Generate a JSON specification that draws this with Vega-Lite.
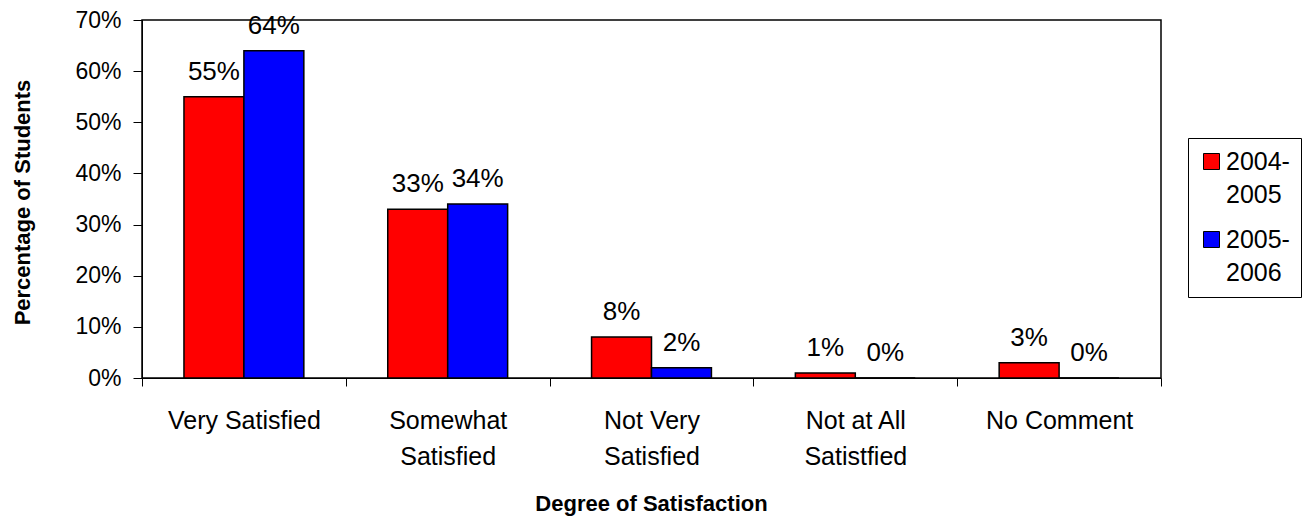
{
  "$schema": "https://vega.github.io/schema/vega-lite/v6.json",
  "width": 1019,
  "height": 358,
  "autosize": {"type": "none"},
  "padding": {"left": 142, "top": 20, "right": 143, "bottom": 138},
  "background": "white",
  "config": {
    "font": "Liberation Sans",
    "view": {"stroke": "black", "strokeWidth": 1.5}
  },
  "data": {
    "values": [
      {"category": "Very Satisfied", "year": "2004-2005", "pct": 0.55},
      {"category": "Very Satisfied", "year": "2005-2006", "pct": 0.64},
      {"category": "Somewhat Satisfied", "year": "2004-2005", "pct": 0.33},
      {"category": "Somewhat Satisfied", "year": "2005-2006", "pct": 0.34},
      {"category": "Not Very Satisfied", "year": "2004-2005", "pct": 0.08},
      {"category": "Not Very Satisfied", "year": "2005-2006", "pct": 0.02},
      {"category": "Not at All Satistfied", "year": "2004-2005", "pct": 0.01},
      {"category": "Not at All Satistfied", "year": "2005-2006", "pct": 0.0},
      {"category": "No Comment", "year": "2004-2005", "pct": 0.03},
      {"category": "No Comment", "year": "2005-2006", "pct": 0.0}
    ]
  },
  "encoding": {
    "x": {
      "field": "category",
      "type": "nominal",
      "sort": null,
      "scale": {"paddingInner": 0, "paddingOuter": 0},
      "axis": {
        "title": "Degree of Satisfaction",
        "titleFontSize": 22,
        "titleFontWeight": "bold",
        "titleColor": "black",
        "titleX": 509,
        "titleY": 132,
        "titleBaseline": "alphabetic",
        "titleAlign": "center",
        "labelAngle": 0,
        "labelFontSize": 25,
        "labelColor": "black",
        "labelBaseline": "top",
        "labelLineHeight": 36,
        "labelPadding": 22,
        "labelLimit": 0,
        "tickBand": "extent",
        "tickSize": 8,
        "tickColor": "black",
        "domainColor": "black",
        "labelExpr": "datum.value == 'Somewhat Satisfied' ? ['Somewhat', 'Satisfied'] : datum.value == 'Not Very Satisfied' ? ['Not Very', 'Satisfied'] : datum.value == 'Not at All Satistfied' ? ['Not at All', 'Satistfied'] : datum.value"
      }
    },
    "xOffset": {
      "field": "year",
      "type": "nominal",
      "scale": {"paddingInner": 0, "paddingOuter": 0.7}
    },
    "y": {
      "field": "pct",
      "type": "quantitative",
      "scale": {"domain": [0, 0.7]},
      "axis": {
        "title": "Percentage of Students",
        "titleFontSize": 22,
        "titleFontWeight": "bold",
        "titleColor": "black",
        "titleAngle": -90,
        "titleX": -113,
        "titleY": 182,
        "titleAlign": "center",
        "titleBaseline": "alphabetic",
        "values": [0, 0.1, 0.2, 0.3, 0.4, 0.5, 0.6, 0.7],
        "format": ".0%",
        "grid": false,
        "labelFontSize": 23,
        "labelColor": "black",
        "labelPadding": 12,
        "tickSize": 9,
        "tickColor": "black",
        "domainColor": "black"
      }
    }
  },
  "layer": [
    {
      "mark": {"type": "bar", "stroke": "black", "strokeWidth": 1.5},
      "encoding": {
        "color": {
          "field": "year",
          "type": "nominal",
          "scale": {"domain": ["2004-2005", "2005-2006"], "range": ["#FF0000", "#0000FF"]},
          "legend": {
            "title": null,
            "orient": "none",
            "legendX": 1046,
            "legendY": 118,
            "strokeColor": "black",
            "fillColor": "white",
            "padding": 11,
            "symbolType": "square",
            "symbolSize": 256,
            "symbolStrokeColor": "black",
            "symbolStrokeWidth": 1,
            "labelFontSize": 25,
            "labelColor": "black",
            "labelBaseline": "middle",
            "labelOffset": 2,
            "rowPadding": 19,
            "labelExpr": "[slice(datum.label, 0, 5), slice(datum.label, 5)]",
            "encode": {"labels": {"update": {"lineHeight": {"value": 33}}}}
          }
        }
      }
    },
    {
      "mark": {"type": "text", "dy": -17, "baseline": "alphabetic", "fontSize": 26, "color": "black"},
      "encoding": {
        "text": {"field": "pct", "type": "quantitative", "format": ".0%"}
      }
    }
  ]
}
